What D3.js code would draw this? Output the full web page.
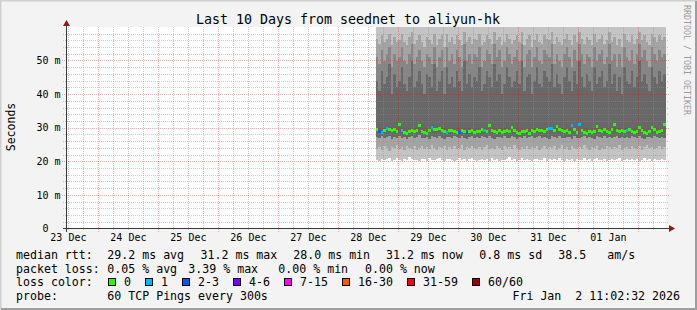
<!DOCTYPE html>
<html><head><meta charset="utf-8">
<script src="https://cdn.jsdelivr.net/npm/d3@7"></script>
<style>
html,body{margin:0;padding:0;background:#f3f3f3}
svg{display:block}
text{font-family:"DejaVu Sans Mono",monospace;white-space:pre}
</style>
</head><body>
<svg id="chart" width="697" height="310"></svg>
<script>
// ---------------- data ----------------
const title = "Last 10 Days from seednet to aliyun-hk";
const yAxisTitle = "Seconds";
const rightTag = "RRDTOOL / TOBI OETIKER";
const rangeStart = "2025-12-23T11:02:32";
const rangeEnd = "2026-01-02T11:02:32";
const dataStart = "2025-12-28T15:00:00"; // first hourly sample
const yTickValues = [0, 10, 20, 30, 40, 50];
const yTickLabels = [" 0  ", "10 m", "20 m", "30 m", "40 m", "50 m"];
const dayLabels = ["23 Dec","24 Dec","25 Dec","26 Dec","27 Dec","28 Dec","29 Dec","30 Dec","31 Dec","01 Jan"];

// hourly median rtt (ms)
const median = [
29.7,28.9,28.8,29.4,30.0,29.6,29.3,29.5,29.1,31.1,
29.3,28.7,28.5,29.0,29.2,28.9,29.4,30.7,29.0,28.6,
28.4,29.3,30.2,29.7,29.5,29.8,29.3,29.0,28.7,29.2,
29.4,29.1,28.8,28.6,29.2,28.9,28.7,29.1,29.3,28.6,
28.9,29.0,29.5,29.4,29.0,30.7,29.2,29.0,28.8,29.3,
28.6,28.9,29.4,29.1,30.2,29.3,28.7,28.4,29.0,28.9,
29.2,28.5,29.4,29.0,29.6,29.2,29.3,29.1,29.5,30.0,
30.0,29.4,30.6,29.6,29.2,29.0,29.3,28.7,30.7,29.5,
28.8,31.2,29.4,28.7,28.4,28.9,28.6,29.0,30.6,29.3,
28.9,29.6,29.0,28.7,29.5,31.2,29.3,29.0,29.2,28.9,
29.2,29.5,29.1,28.8,29.0,30.3,29.2,28.6,28.4,28.9,
30.3,29.5,28.8,29.1,29.3,31.2];
// lost pings (out of 60) per hour
const loss = [
0,2,1,0,1,0,0,0,0,0,
1,0,0,0,0,0,0,0,0,0,
0,0,1,0,0,0,0,0,1,0,
0,0,0,2,0,0,2,0,0,0,
0,0,0,1,0,0,0,0,0,0,
0,0,0,0,0,0,0,0,0,0,
0,0,0,0,0,0,0,0,0,1,
1,0,0,0,0,0,0,0,1,0,
0,1,0,0,0,0,0,0,0,0,
0,0,0,0,0,0,0,0,0,0,
1,0,0,0,0,0,0,0,0,0,
0,0,0,0,0,0];
// smoke: spread of the 60 pings per hour (ms)
const smokeMin = [
20.4,20.1,20.8,20.3,20.6,21.0,20.2,20.5,20.9,20.3,
20.0,20.6,20.4,21.2,20.7,20.3,20.5,20.1,20.8,20.6,
20.2,20.9,20.4,20.3,20.7,21.1,20.5,20.2,20.6,20.8,
20.3,20.0,20.5,20.9,20.4,20.6,20.2,20.7,21.0,20.4,
20.1,20.5,20.8,20.3,20.6,20.2,20.9,20.4,20.7,20.1,
20.5,20.3,20.8,21.2,20.4,20.6,20.2,20.5,20.9,20.3,
20.7,20.4,20.1,20.6,20.8,20.3,20.5,21.0,20.2,20.7,
20.4,20.6,20.3,20.9,20.5,20.1,20.7,20.4,20.8,20.2,
20.6,20.3,20.5,21.1,20.4,20.7,20.2,20.6,20.9,20.3,
20.5,20.8,20.1,20.4,20.7,20.3,20.6,21.0,20.2,20.5,
20.8,20.4,20.6,20.3,20.7,20.1,20.5,20.9,20.4,20.6,
20.2,20.7,20.3,20.5,20.8,20.4];
const smokeLow = [
23.8,24.3,23.5,24.6,24.0,23.2,24.4,23.9,24.8,23.6,
24.2,23.4,24.7,24.1,23.7,24.5,23.3,24.0,24.6,23.8,
24.3,23.6,24.9,24.0,23.5,24.4,23.9,24.7,23.4,24.2,
23.8,24.5,23.6,24.1,24.8,23.3,24.3,23.9,24.6,24.0,
23.7,24.4,23.5,24.2,24.9,23.8,24.1,23.6,24.5,24.0,
23.4,24.7,23.9,24.3,23.6,24.8,24.0,23.5,24.4,23.8,
24.6,23.7,24.2,23.9,24.5,23.3,24.1,24.7,23.6,24.3,
23.9,24.6,23.5,24.0,24.8,23.7,24.2,23.4,24.5,24.1,
23.8,24.4,23.6,24.9,24.0,23.5,24.3,23.9,24.7,23.4,
24.1,23.8,24.6,24.2,23.6,24.4,23.9,24.8,23.5,24.0,
24.3,23.7,24.5,24.1,23.8,24.6,23.4,24.2,24.9,23.9,
24.4,23.6,24.0,24.7,23.8,24.3];
const smokeQ1 = [
27.1,26.8,27.4,26.9,27.3,27.6,26.7,27.2,27.0,27.5,
26.9,27.3,26.6,27.1,27.4,26.8,27.2,27.7,26.9,27.0,
27.3,26.7,27.5,27.1,26.8,27.4,27.0,26.6,27.3,27.2,
26.9,27.6,27.1,26.8,27.4,27.0,26.7,27.3,27.5,26.9,
27.2,26.8,27.4,27.1,26.9,27.6,27.0,26.7,27.3,27.2,
26.8,27.5,27.0,26.9,27.4,27.1,26.6,27.3,27.0,27.5,
26.9,27.2,27.4,26.8,27.1,27.6,26.9,27.3,27.0,26.7,
27.4,27.2,26.8,27.5,27.0,26.9,27.3,27.1,26.7,27.4,
27.0,26.8,27.3,27.6,26.9,27.2,27.0,26.7,27.4,27.1,
26.8,27.5,27.0,27.3,26.9,27.2,27.4,26.8,27.1,27.0,
27.3,26.9,27.5,27.1,26.8,27.4,27.0,26.7,27.2,27.3,
26.9,27.5,27.1,26.8,27.3,27.0];
const smokeCore = [
44,41,47,43,45,49,40,46,42,44,
48,43,41,45,50,42,44,47,43,40,
46,45,42,49,41,44,47,40,48,43,
45,42,47,44,41,50,43,46,42,45,
44,48,41,43,47,45,42,49,44,46,
40,43,48,45,42,44,47,43,50,41,
45,46,40,44,48,43,42,47,45,44,
49,42,46,43,40,45,48,44,41,47,
43,50,45,42,46,44,41,48,43,45,
47,42,44,49,43,46,41,45,40,48,
44,43,47,42,45,50,44,46,43,41,
48,45,43,47,44,46];
const smokeHigh = [
51,49,53,50,52,54,48,52,50,51,
54,50,49,52,55,49,51,53,50,48,
52,51,49,54,48,51,53,48,54,50,
52,49,53,51,48,55,50,52,49,52,
51,54,48,50,53,52,49,55,51,53,
48,50,54,52,49,51,53,50,55,48,
52,53,48,51,54,50,49,53,52,51,
55,49,52,50,48,52,54,51,48,53,
50,55,52,49,52,51,48,54,50,52,
53,49,51,55,50,52,48,52,48,54,
51,50,53,49,52,55,51,53,50,48,
54,52,50,53,51,52];
const smokeTop = [
56.5,55.0,57.5,55.5,56.5,58.0,54.5,57.0,55.5,56.0,
58.0,55.5,54.5,57.0,58.5,55.0,56.0,57.5,55.5,54.0,
57.0,56.0,55.0,58.0,54.5,56.5,57.5,54.0,58.0,55.5,
57.0,55.0,57.5,56.0,54.5,58.5,55.5,57.0,55.0,56.5,
56.0,58.0,54.5,55.5,57.5,56.5,55.0,58.5,56.0,57.0,
54.5,55.5,58.0,56.5,55.0,56.0,57.5,55.5,58.5,54.5,
56.5,57.5,54.0,56.0,58.0,55.5,55.0,57.5,56.5,56.0,
58.5,55.0,57.0,55.5,54.5,56.5,58.0,56.0,54.5,57.5,
55.5,58.5,56.5,55.0,57.0,56.0,54.5,58.0,55.5,56.5,
57.5,55.0,56.0,58.5,55.5,57.0,54.5,56.5,54.0,58.0,
56.0,55.5,57.5,55.0,56.5,58.5,56.0,57.5,55.5,54.5,
58.0,57.0,55.5,57.5,56.0,57.0];

const lossLabels = ["0","1","2-3","4-6","7-15","16-30","31-59","60/60"];
const lossMinCounts = [0,1,2,4,7,16,31,60];
const lossColors = ["#26ff00","#00b8ff","#0059ff","#7e00ff","#ff00ff","#ff5500","#ff0000","#a10000"];

const legendRtt = [["median rtt:",16],["29.2 ms avg",107.3],["31.2 ms max",200.5],["28.0 ms min",293.3],["31.2 ms now",386],["0.8 ms sd",479.3],["38.5",558.3],["am/s",607.3]];
const legendLoss = [["packet loss:",16],["0.05 % avg",107.3],["3.39 % max",188.3],["0.00 % min",278.3],["0.00 % now",365]];
const probeText = "60 TCP Pings every 300s";
const stampText = "Fri Jan  2 11:02:32 2026";

// ---------------- drawing ----------------
const W = 697, H = 310;
const svg = d3.select("#chart");
const x = d3.scaleTime().domain([new Date(rangeStart), new Date(rangeEnd)]).range([66, 666]);
const y = d3.scaleLinear().domain([0, 60]).range([228.5, 26.9]);
const yTop = y.domain()[1];

svg.append("rect").attr("width", W).attr("height", H).attr("fill", "#f3f3f3");
// frame
svg.append("path").attr("d", `M0.5,${H}V0.5H${W}`).attr("stroke", "#cfcfcf").attr("stroke-width", 2).attr("fill", "none");
svg.append("path").attr("d", `M1,${H-1}H${W-1}V1`).attr("stroke", "#9e9e9e").attr("stroke-width", 2).attr("fill", "none");

// canvas
svg.append("rect").attr("x", 66).attr("y", y(yTop)).attr("width", 600).attr("height", y(0) - y(yTop)).attr("fill", "#ffffff");

// smoke
const t0 = new Date(dataStart);
const cols = median.map((m, i) => ({
  a: d3.timeHour.offset(t0, i), b: d3.timeHour.offset(t0, i + 1),
  m, loss: loss[i], mn: smokeMin[i], lo: smokeLow[i], q1: smokeQ1[i],
  core: smokeCore[i], hi: smokeHigh[i], top: smokeTop[i]
}));
const layers = [
  {lo: d => d.mn, hi: d => yTop, c: "#c4c4c4"},
  {lo: d => d.lo, hi: d => d.top, c: "#a4a4a4"},
  {lo: d => d.q1, hi: d => d.hi, c: "#868686"},
  {lo: d => d.q1, hi: d => d.core, c: "#686868"}
];
const gSmoke = svg.append("g").attr("shape-rendering", "crispEdges");
layers.forEach(L => {
  gSmoke.selectAll(null).data(cols).join("rect")
    .attr("x", d => Math.round(x(d.a)))
    .attr("width", d => Math.round(x(d.b)) - Math.round(x(d.a)))
    .attr("y", d => y(Math.min(L.hi(d), yTop)))
    .attr("height", d => y(L.lo(d)) - y(Math.min(L.hi(d), yTop)))
    .attr("fill", L.c);
});

// grid
const gGrid = svg.append("g").attr("shape-rendering", "crispEdges");
const minorT = d3.timeHour.every(6).range(x.domain()[0], x.domain()[1]);
const majorT = d3.timeDay.range(x.domain()[0], x.domain()[1]);
const minorColor = "rgba(143,143,143,0.45)", majorColor = "rgba(255,0,0,0.3)";
gGrid.selectAll(null).data(minorT.filter(t => t.getHours() !== 0)).join("line")
  .attr("x1", d => Math.round(x(d)) + 0.5).attr("x2", d => Math.round(x(d)) + 0.5)
  .attr("y1", y(yTop)).attr("y2", y(0) + 2)
  .attr("stroke", minorColor).attr("stroke-dasharray", "1,1");
const minorY = d3.range(2, 60, 2).filter(v => v % 10 !== 0);
gGrid.selectAll(null).data(minorY).join("line")
  .attr("x1", 63).attr("x2", 669)
  .attr("y1", d => Math.round(y(d)) + 0.5).attr("y2", d => Math.round(y(d)) + 0.5)
  .attr("stroke", minorColor).attr("stroke-dasharray", "1,1");
gGrid.selectAll(null).data(majorT).join("line")
  .attr("x1", d => Math.round(x(d)) + 0.5).attr("x2", d => Math.round(x(d)) + 0.5)
  .attr("y1", y(yTop)).attr("y2", y(0) + 3)
  .attr("stroke", majorColor).attr("stroke-dasharray", "1,1");
gGrid.selectAll(null).data(yTickValues.filter(v => v > 0)).join("line")
  .attr("x1", 62).attr("x2", 669)
  .attr("y1", d => Math.round(y(d)) + 0.5).attr("y2", d => Math.round(y(d)) + 0.5)
  .attr("stroke", majorColor).attr("stroke-dasharray", "1,1");

// median line colored by loss
const lossIndex = n => { let k = 0; lossMinCounts.forEach((c, j) => { if (n >= c) k = j; }); return k; };
svg.append("g").attr("shape-rendering", "crispEdges").selectAll("rect").data(cols).join("rect")
  .attr("x", d => Math.round(x(d.a)))
  .attr("width", d => Math.round(x(d.b)) - Math.round(x(d.a)))
  .attr("y", d => Math.round(y(d.m)) - 1)
  .attr("height", 3)
  .attr("fill", d => lossColors[lossIndex(d.loss)]);

// axes
const axisColor = "#3a3a3a", arrowColor = "#8b1a1a";
svg.append("line").attr("x1", 63).attr("x2", 671).attr("y1", 228.5).attr("y2", 228.5).attr("stroke", axisColor);
svg.append("line").attr("x1", 66.5).attr("x2", 66.5).attr("y1", 232).attr("y2", 24).attr("stroke", axisColor);
svg.append("path").attr("d", "M669,225L675,228.5L669,232Z").attr("fill", arrowColor);
svg.append("path").attr("d", "M63,26L66.5,20L70,26Z").attr("fill", arrowColor);

// y labels
svg.append("g").selectAll("text").data(yTickValues).join("text")
  .attr("x", 36.5).attr("y", d => y(d) + 3.7)
  .attr("font-size", "10px").attr("fill", "#000")
  .text((d, i) => yTickLabels[i]);

// x labels (centered at noon of each day)
const days = d3.timeDay.range(d3.timeDay.floor(x.domain()[0]), x.domain()[1]);
svg.append("g").selectAll("text").data(days).join("text")
  .attr("x", d => x(d3.timeHour.offset(d, 12)))
  .attr("y", 241).attr("text-anchor", "middle")
  .attr("font-size", "10px").attr("fill", "#000")
  .text((d, i) => dayLabels[i]);

// title
svg.append("text").attr("x", 348).attr("y", 23.5).attr("text-anchor", "middle")
  .attr("font-size", "13.3px").attr("fill", "#000").text(title);
// y-axis title
svg.append("text").attr("transform", "translate(14.5,127) rotate(-90)").attr("text-anchor", "middle")
  .attr("font-size", "11.5px").attr("fill", "#000").text(yAxisTitle);
// rrdtool tag
svg.append("text").attr("transform", "translate(684,5) rotate(90)").attr("text-anchor", "start")
  .attr("font-size", "8.3px").attr("fill", "#9a9a9a").text(rightTag);

// legend
const lg = svg.append("g").attr("font-size", "11.6px").attr("fill", "#000");
legendRtt.forEach(([t, px]) => lg.append("text").attr("x", px).attr("y", 258.5).text(t));
legendLoss.forEach(([t, px]) => lg.append("text").attr("x", px).attr("y", 272.5).text(t));
lg.append("text").attr("x", 16).attr("y", 286).text("loss color:");
const swX = [108.5, 145.5, 182.5, 233.5, 284.5, 342.5, 407.5, 472.5];
lossLabels.forEach((t, i) => {
  lg.append("rect").attr("x", swX[i]).attr("y", 278.5).attr("width", 7).attr("height", 7)
    .attr("fill", lossColors[i]).attr("stroke", "#000").attr("stroke-width", 1);
  lg.append("text").attr("x", swX[i] + 15.5).attr("y", 286).text(t);
});
lg.append("text").attr("x", 16).attr("y", 300).text("probe:");
lg.append("text").attr("x", 107.3).attr("y", 300).text(probeText);
lg.append("text").attr("x", 680).attr("y", 300).attr("text-anchor", "end").text(stampText);
</script>
</body></html>
